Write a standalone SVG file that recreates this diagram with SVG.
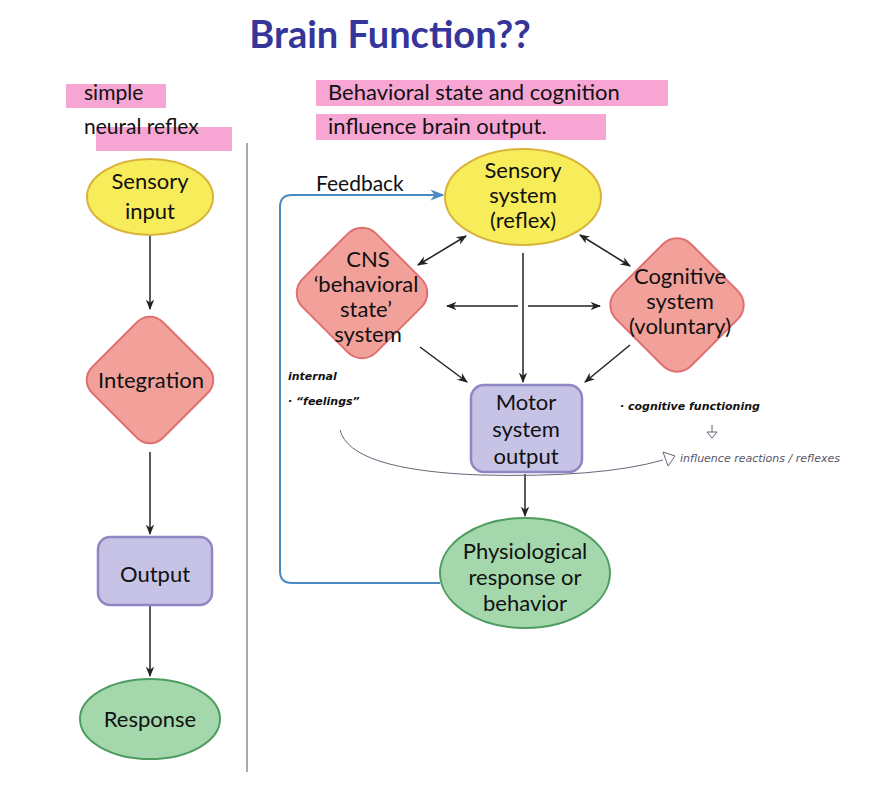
<svg xmlns="http://www.w3.org/2000/svg" width="875" height="797" viewBox="0 0 875 797">
<defs>
<marker id="ah" viewBox="0 0 10 10" refX="9" refY="5" markerWidth="7" markerHeight="7" orient="auto-start-reverse"><path d="M0,1 L10,5 L0,9 L3,5 z" fill="#222"/></marker>
<marker id="ahb" viewBox="0 0 10 10" refX="9" refY="5" markerWidth="7" markerHeight="7" orient="auto"><path d="M0,1 L10,5 L0,9 L3,5 z" fill="#4a8ac0"/></marker>
<style>
text{font-family:Lato,"Liberation Sans",sans-serif;fill:#111}
.n{font-size:22px;text-anchor:middle}
.y{fill:#f7ec5a;stroke:#d9b33a;stroke-width:2}
.r{fill:#f2a09a;stroke:#e07070;stroke-width:2}
.p{fill:#c6c3e6;stroke:#8f86c4;stroke-width:2.5}
.g{fill:#a4d8ac;stroke:#4f9c60;stroke-width:2}
.c{stroke:#222;stroke-width:1.5;fill:none}
.hl{fill:#f58fc8;opacity:0.8}
.hw{font-family:"DejaVu Sans",sans-serif;font-style:italic;font-size:11px}
</style>
</defs>
<rect width="875" height="797" fill="#fff"/>
<text x="390" y="48" style="font-size:38px;font-weight:bold;fill:#35359a;text-anchor:middle">Brain Function??</text>
<rect class="hl" x="66" y="84" width="100" height="24"/>
<rect class="hl" x="96" y="127" width="136" height="24"/>
<rect class="hl" x="316" y="80" width="352" height="26"/>
<rect class="hl" x="316" y="114" width="290" height="26"/>
<text x="84" y="100" style="font-size:21px">simple</text>
<text x="84" y="134" style="font-size:21px">neural reflex</text>
<text x="328" y="100" style="font-size:22px">Behavioral state and cognition</text>
<text x="328" y="134" style="font-size:22px">influence brain output.</text>
<line x1="247" y1="143" x2="247" y2="772" stroke="#aaa" stroke-width="2"/>
<g id="connectors">
<line class="c" x1="150" y1="236" x2="150" y2="309" marker-end="url(#ah)"/>
<line class="c" x1="150" y1="452" x2="150" y2="534" marker-end="url(#ah)"/>
<line class="c" x1="150" y1="606" x2="150" y2="676" marker-end="url(#ah)"/>
<line class="c" x1="466" y1="236" x2="418" y2="265" marker-start="url(#ah)" marker-end="url(#ah)"/>
<line class="c" x1="580" y1="235" x2="630" y2="266" marker-start="url(#ah)" marker-end="url(#ah)"/>
<line class="c" x1="447" y1="306" x2="518" y2="306" marker-start="url(#ah)"/>
<line class="c" x1="528" y1="306" x2="600" y2="306" marker-end="url(#ah)"/>
<line class="c" x1="523" y1="253" x2="523" y2="382" marker-end="url(#ah)"/>
<line class="c" x1="420" y1="347" x2="467" y2="382" marker-end="url(#ah)"/>
<line class="c" x1="630" y1="345" x2="585" y2="382" marker-end="url(#ah)"/>
<line class="c" x1="525" y1="474" x2="525" y2="516" marker-end="url(#ah)"/>
<path d="M440,583 H292 Q280,583 280,571 V207 Q280,195 292,195 H443" fill="none" stroke="#4a8ac0" stroke-width="2" marker-end="url(#ahb)"/>
</g>
<text x="316" y="191" style="font-size:21px">Feedback</text>
<g id="sensory-input"><ellipse class="y" cx="150" cy="197" rx="63" ry="38"/><text class="n" x="150" y="189">Sensory</text><text class="n" x="150" y="219">input</text></g>
<g id="integration"><rect class="r" x="100" y="330" width="100" height="100" rx="18" transform="rotate(45 150 380)"/><text class="n" x="151" y="388">Integration</text></g>
<g id="output"><rect class="p" x="98" y="537" width="114" height="68" rx="12"/><text class="n" x="155" y="582">Output</text></g>
<g id="response"><ellipse class="g" cx="150" cy="719" rx="70" ry="40"/><text class="n" x="150" y="727">Response</text></g>
<g id="sensory-system"><ellipse class="y" cx="523" cy="197" rx="78" ry="48"/><text class="n" x="523" y="178">Sensory</text><text class="n" x="523" y="203">system</text><text class="n" x="523" y="228">(reflex)</text></g>
<g id="cns"><rect class="r" x="310" y="241" width="104" height="104" rx="20" transform="rotate(45 362 293)"/><text class="n" x="368" y="267">CNS</text><text class="n" x="366" y="292">‘behavioral</text><text class="n" x="366" y="317">state’</text><text class="n" x="368" y="342">system</text></g>
<g id="cognitive"><rect class="r" x="624" y="252" width="106" height="106" rx="20" transform="rotate(45 677 305)"/><text class="n" x="680" y="284">Cognitive</text><text class="n" x="680" y="309">system</text><text class="n" x="680" y="334">(voluntary)</text></g>
<g id="motor"><rect class="p" x="471" y="385" width="111" height="87" rx="13"/><text class="n" x="526" y="410">Motor</text><text class="n" x="526" y="437">system</text><text class="n" x="526" y="464">output</text></g>
<g id="physiological"><ellipse class="g" cx="525" cy="573" rx="85" ry="55"/><text class="n" x="525" y="559">Physiological</text><text class="n" x="525" y="585">response or</text><text class="n" x="525" y="611">behavior</text></g>
<g id="notes">
<text class="hw" x="288" y="380" style="font-weight:bold">internal</text>
<text class="hw" x="288" y="405" style="font-weight:bold">· “feelings”</text>
<text class="hw" x="620" y="410" style="font-weight:bold">· cognitive functioning</text>
<text class="hw" x="680" y="462" style="fill:#556">influence reactions / reflexes</text>
<path d="M340,430 Q350,470 480,475 Q600,478 663,460" fill="none" stroke="#667" stroke-width="1"/>
<path d="M663,452 L675,456 L668,466 z" fill="none" stroke="#667" stroke-width="1"/>
<path d="M712,425 L712,432 M707,432 L717,432 L712,438 z" fill="none" stroke="#667" stroke-width="1"/>
</g>
</svg>
